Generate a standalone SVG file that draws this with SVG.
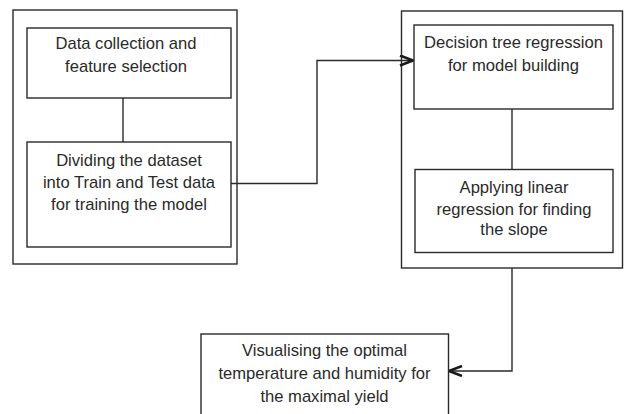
<svg xmlns="http://www.w3.org/2000/svg" width="624" height="414" viewBox="0 0 624 414">
<style>
.box{fill:#fff;stroke:#2a2a2a;stroke-width:1.4}
.lbl{font-family:"Liberation Sans",Arial,sans-serif;font-size:16.6px;fill:#2a2a2a;text-anchor:middle}
.con{fill:none;stroke:#2a2a2a;stroke-width:1.4}
</style>
<defs>
<marker id="arr" viewBox="0 0 16 12" refX="15" refY="6" markerWidth="16" markerHeight="12" markerUnits="userSpaceOnUse" orient="auto">
<polyline points="2,1 15,6 2,11" fill="none" stroke="#1a1a1a" stroke-width="2.6"/>
</marker>
</defs>
<rect width="624" height="414" fill="#fff"/>
<g id="groupLeft"><rect class="box" x="13" y="10" width="224" height="254"/></g>
<g id="groupRight"><rect class="box" x="401.5" y="11" width="221" height="257"/></g>
<g id="connectors">
<line class="con" x1="123" y1="98" x2="123" y2="142"/>
<line class="con" x1="512" y1="109" x2="512" y2="169.5"/>
<path class="con" d="M231 183.5 H317 V60.5 H413" marker-end="url(#arr)"/>
<path class="con" d="M512 268 V371 H449" marker-end="url(#arr)"/>
</g>
<g id="n1"><rect class="box" x="27" y="28" width="204" height="70"/>
<text class="lbl" x="126" y="49">Data collection and</text>
<text class="lbl" x="126" y="72">feature selection</text></g>
<g id="n2"><rect class="box" x="27" y="142" width="204" height="105"/>
<text class="lbl" x="129" y="165.5">Dividing the dataset</text>
<text class="lbl" x="129" y="188">into Train and Test data</text>
<text class="lbl" x="129" y="210">for training the model</text></g>
<g id="n3"><rect class="box" x="414" y="25" width="199" height="84"/>
<text class="lbl" x="513.5" y="47.5">Decision tree regression</text>
<text class="lbl" x="513.5" y="70.5">for model building</text></g>
<g id="n4"><rect class="box" x="415" y="169.5" width="198" height="83"/>
<text class="lbl" x="514" y="193">Applying linear</text>
<text class="lbl" x="514" y="214.5">regression for finding</text>
<text class="lbl" x="514" y="235">the slope</text></g>
<g id="n5"><rect class="box" x="201" y="334" width="247.5" height="90"/>
<text class="lbl" x="324.5" y="355.5">Visualising the optimal</text>
<text class="lbl" x="324.5" y="378.5">temperature and humidity for</text>
<text class="lbl" x="324.5" y="401.5">the maximal yield</text></g>
</svg>
